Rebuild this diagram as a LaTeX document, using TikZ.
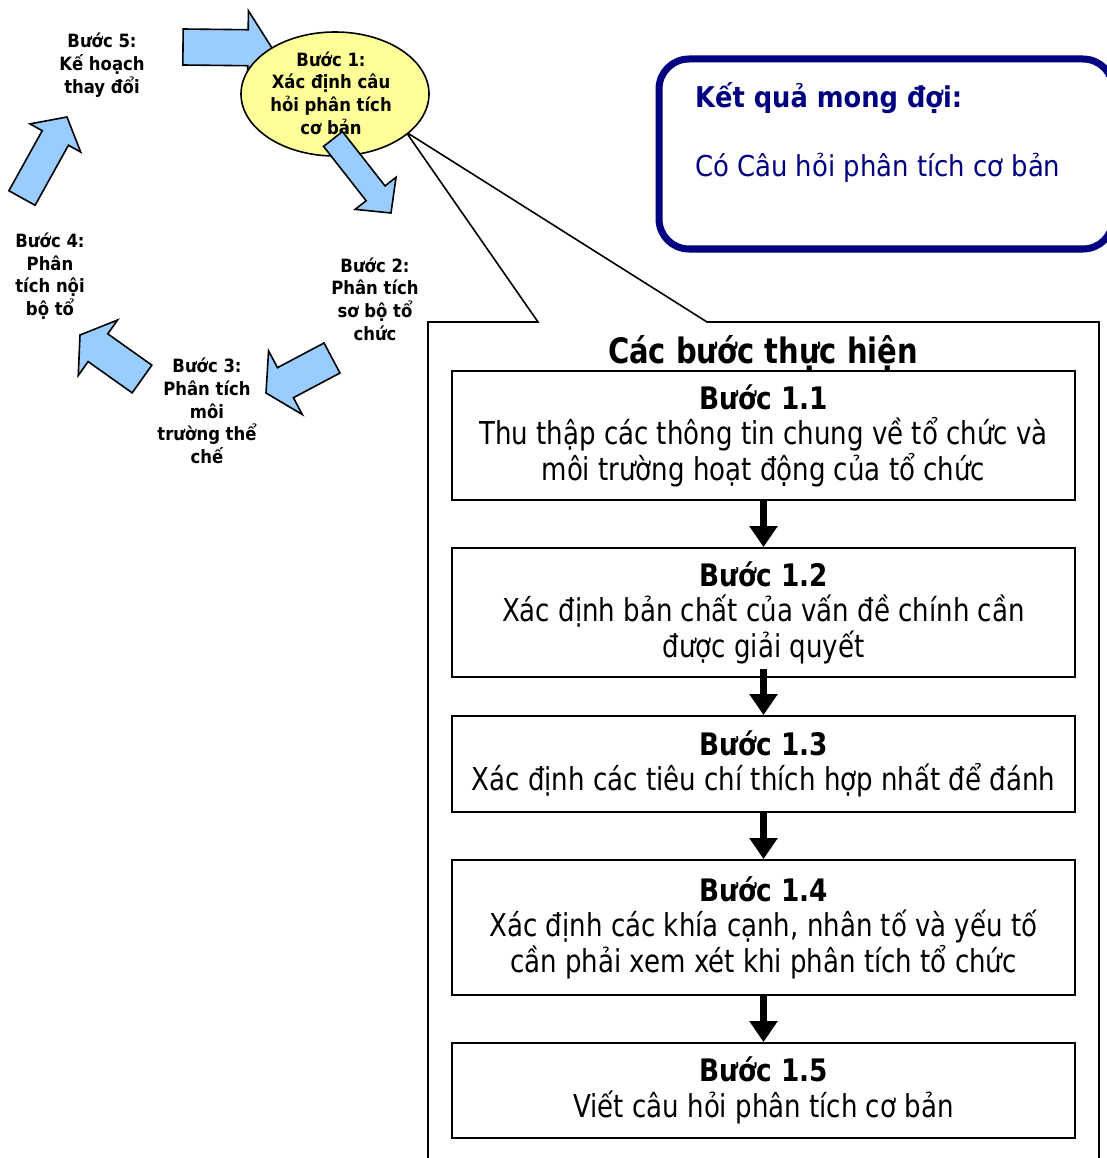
\documentclass[tikz,border=0pt]{standalone}
\usepackage{fontspec}
\setmainfont{DejaVu Sans Condensed}
\newfontfamily\narrowfont{DejaVu Sans Condensed}[FakeStretch=0.92]
\newfontfamily\headfont{DejaVu Sans}[FakeStretch=0.85]
\usetikzlibrary{calc,shapes.geometric,arrows.meta}

\definecolor{arrowblue}{HTML}{99CCFF}
\definecolor{bubble}{HTML}{FFFF99}
\definecolor{navy}{HTML}{000080}

\tikzset{
  blockarr/.style={draw=black, line width=1.6pt, fill=arrowblue, line join=miter},
  cyclelabel/.style={align=center, inner sep=0pt, font=\bfseries\fontsize{18.3}{22.7}\selectfont},
  stepbox/.style={draw=black, line width=1.8pt, fill=white, minimum width=623pt,
    align=center, inner sep=0pt, font=\narrowfont\fontsize{31.5}{35.5}\selectfont},
  flowarrow/.style={line width=7pt, -{Triangle[length=21pt,width=27pt]}},
  callout/.style={draw=black, line width=1.6pt, line join=miter},
}
\newcommand\stephead[1]{{\headfont\bfseries\fontsize{31}{35.5}\selectfont #1}}

% block arrow: name, tail, tip, shaft half width, head half width, head length
\newcommand\blockarrow[6]{%
  \coordinate (#1-t) at (#2);
  \coordinate (#1-p) at (#3);
  \coordinate (#1-b) at ($(#1-p)!#6!(#1-t)$);
  \draw[blockarr] ($(#1-t)!#4!90:(#1-p)$) -- ($(#1-b)!#4!90:(#1-p)$)
    -- ($(#1-b)!#5!90:(#1-p)$) -- (#1-p) -- ($(#1-b)!#5!-90:(#1-p)$)
    -- ($(#1-b)!#4!-90:(#1-p)$) -- ($(#1-t)!#4!-90:(#1-p)$) -- cycle;
}

\begin{document}
\begin{tikzpicture}[x=1pt, y=-1pt]
\clip (0,0) rectangle (1107,1158);
\fill[white] (0,0) rectangle (1107,1158);

% callout panel with its pointer to step 1
\coordinate (apex) at (406,132);
\draw[callout] (538,322) -- (apex) -- (707,322) -- (1099,322) -- (1099,1175)
  -- (428,1175) -- (428,322) -- cycle;

% expected result box
\draw[navy, line width=7pt, rounded corners=30pt] (659,59) rectangle (1113,249);
\node[anchor=west, inner sep=0pt, text=navy, font=\bfseries\fontsize{28.6}{32}\selectfont]
  (res-title) at (695,98) {Kết quả mong đợi:};
\node[anchor=west, inner sep=0pt, text=navy, font=\fontsize{28.8}{32}\selectfont]
  (res-text) at (695,168) {Có Câu hỏi phân tích cơ bản};

% cycle of five steps
\blockarrow{a51}{183,47}{272,48}{18pt}{37pt}{24pt}
\node[ellipse, draw=black, line width=1.6pt, fill=bubble, minimum width=188pt,
  minimum height=124pt, inner sep=0pt] (s1) at (335,94) {};
\node[cyclelabel] (s1-text) at (331,93) {Bước 1:\\Xác định câu\\hỏi phân tích\\cơ bản};
\blockarrow{a12}{333,139}{391,213}{12pt}{26pt}{25pt}

\node[cyclelabel] (s2) at (375,299) {Bước 2:\\Phân tích\\sơ bộ tổ\\chức};
\blockarrow{a23}{332,358}{266,393}{17pt}{36pt}{22pt}

\node[cyclelabel] (s3) at (207,411) {Bước 3:\\Phân tích\\môi\\trường thể\\chế};
\blockarrow{a34}{142,379}{80,335}{17pt}{34pt}{22pt}

\node[cyclelabel] (s4) at (50,276) {Bước 4:\\Phân\\tích nội\\bộ tổ};
\blockarrow{a45}{22,198}{67,117}{15pt}{29pt}{24pt}

\node[cyclelabel] (s5) at (102,65) {Bước 5:\\Kế hoạch\\thay đổi};

% implementation steps
\node[inner sep=0pt, font=\narrowfont\bfseries\fontsize{35}{38}\selectfont] (steps-title)
  at (763,353) {Các bước thực hiện};

\node[stepbox, minimum height=129pt] (b1) at (763.5,435.5)
  {\stephead{Bước 1.1}\\Thu thập các thông tin chung về tổ chức và\\môi trường hoạt động của tổ chức};
\node[stepbox, minimum height=129pt] (b2) at (763.5,612.5)
  {\stephead{Bước 1.2}\\Xác định bản chất của vấn đề chính cần\\được giải quyết};
\node[stepbox, minimum height=96pt] (b3) at (763.5,764)
  {\stephead{Bước 1.3}\\Xác định các tiêu chí thích hợp nhất để đánh};
\node[stepbox, minimum height=135pt] (b4) at (763.5,927.5)
  {\stephead{Bước 1.4}\\Xác định các khía cạnh, nhân tố và yếu tố\\cần phải xem xét khi phân tích tổ chức};
\node[stepbox, minimum height=95pt] (b5) at (763.5,1090.5)
  {\stephead{Bước 1.5}\\Viết câu hỏi phân tích cơ bản};

\draw[flowarrow] (b1.south) -- (b2.north);
\draw[flowarrow] ([yshift=9pt]b2.south) -- (b3.north);
\draw[flowarrow] (b3.south) -- (b4.north);
\draw[flowarrow] (b4.south) -- (b5.north);
\end{tikzpicture}
\end{document}
